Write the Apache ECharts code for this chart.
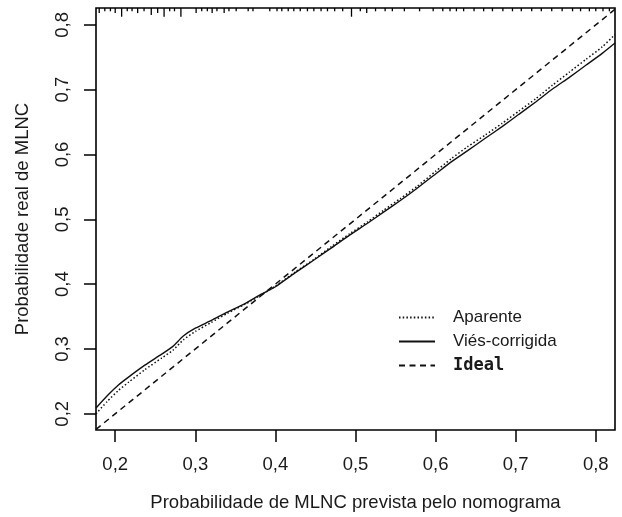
<!DOCTYPE html>
<html>
<head>
<meta charset="utf-8">
<script src="https://cdn.jsdelivr.net/npm/echarts@6/dist/echarts.min.js"></script>
<style>html,body{margin:0;padding:0;background:#fff}#c{width:622px;height:517px}</style>
</head>
<body>
<div id="c"></div>
<script>
// ---- data ----
var tickValues = [0.2, 0.3, 0.4, 0.5, 0.6, 0.7, 0.8];
var xRange = [0.176, 0.824];
var yRange = [0.175, 0.826];

var corrX = [0.176, 0.19, 0.204, 0.217, 0.237, 0.258, 0.272, 0.285, 0.30, 0.32, 0.34, 0.362, 0.383, 0.40, 0.424, 0.449, 0.47, 0.493, 0.515, 0.535, 0.556, 0.577, 0.6, 0.62, 0.64, 0.662, 0.683, 0.704, 0.725, 0.746, 0.767, 0.788, 0.808, 0.824];
var corrY = [0.209, 0.228, 0.2445, 0.257, 0.275, 0.292, 0.304, 0.320, 0.332, 0.344, 0.357, 0.370, 0.385, 0.396, 0.417, 0.438, 0.456, 0.476, 0.494, 0.511, 0.529, 0.548, 0.570, 0.589, 0.606, 0.625, 0.643, 0.662, 0.681, 0.701, 0.719, 0.738, 0.756, 0.772];

var apparX = [0.176, 0.19, 0.204, 0.217, 0.237, 0.258, 0.272, 0.285, 0.30, 0.32, 0.34, 0.362, 0.383, 0.40, 0.424, 0.449, 0.47, 0.493, 0.515, 0.535, 0.556, 0.577, 0.6, 0.62, 0.64, 0.662, 0.683, 0.704, 0.725, 0.746, 0.767, 0.788, 0.808, 0.824];
var apparY = [0.200, 0.219, 0.236, 0.249, 0.268, 0.286, 0.298, 0.314, 0.327, 0.341, 0.355, 0.369, 0.384, 0.397, 0.418, 0.439, 0.458, 0.478, 0.496, 0.514, 0.532, 0.551, 0.574, 0.594, 0.612, 0.630, 0.648, 0.667, 0.686, 0.707, 0.727, 0.747, 0.766, 0.785];

var idealX = [0.176, 0.824];
var idealY = [0.176, 0.824];

// rug of predicted probabilities (top axis), with relative frequency
var rugX = [0.180, 0.187, 0.194, 0.200, 0.208, 0.215, 0.221, 0.228, 0.236, 0.245, 0.253, 0.261, 0.268, 0.274, 0.282, 0.301, 0.308, 0.315, 0.321, 0.327, 0.336, 0.342, 0.351, 0.366, 0.372, 0.393, 0.402, 0.408, 0.416, 0.423, 0.431, 0.440, 0.448, 0.457, 0.465, 0.474, 0.484, 0.495, 0.506, 0.514, 0.525, 0.537, 0.546, 0.561, 0.580, 0.597, 0.609, 0.618, 0.626, 0.635, 0.648, 0.660, 0.671, 0.684, 0.696, 0.707, 0.720, 0.732, 0.745, 0.758, 0.771, 0.781, 0.792, 0.800, 0.809, 0.817];
var rugFreq = [2, 1, 1, 2, 4, 1, 1, 2, 1, 3, 2, 4, 1, 1, 4, 2, 1, 1, 2, 1, 2, 1, 1, 1, 1, 1, 1, 1, 1, 1, 1, 1, 1, 1, 1, 1, 1, 4, 1, 2, 1, 1, 1, 1, 1, 1, 1, 1, 1, 1, 1, 1, 1, 1, 1, 1, 1, 1, 1, 1, 1, 1, 1, 1, 1, 1];

var names = ['Aparente', 'Viés-corrigida', 'Ideal'];

function zip(a, b) { return a.map(function (v, i) { return [v, b[i]]; }); }
function fmt(v) { return (Math.round(v * 10) / 10).toFixed(1).replace('.', ','); }

var FONT = 'Liberation Sans';
var TXT = '#1a1a1a';

var chart = echarts.init(document.getElementById('c'), null, { renderer: 'canvas' });
chart.setOption({
  animation: false,
  backgroundColor: '#fff',
  grid: { left: 96, top: 8, right: 7, bottom: 85, show: true, borderColor: '#000', borderWidth: 1.6, backgroundColor: 'transparent' },
  xAxis: {
    type: 'value', min: xRange[0], max: xRange[1],
    name: 'Probabilidade de MLNC prevista pelo nomograma',
    nameLocation: 'middle', nameGap: 63,
    nameTextStyle: { fontFamily: FONT, fontSize: 18.5, color: TXT },
    axisLine: { show: false },
    splitLine: { show: false },
    axisTick: { show: true, customValues: tickValues, length: 12, inside: false, lineStyle: { color: '#000', width: 1.5 } },
    axisLabel: { customValues: tickValues, formatter: fmt, margin: 25, fontFamily: FONT, fontSize: 18.5, color: TXT }
  },
  yAxis: {
    type: 'value', min: yRange[0], max: yRange[1],
    name: 'Probabilidade real de MLNC',
    nameLocation: 'middle', nameGap: 64, nameRotate: 90,
    nameTextStyle: { fontFamily: FONT, fontSize: 18.5, color: TXT },
    axisLine: { show: false },
    splitLine: { show: false },
    axisTick: { show: true, customValues: tickValues, length: 12, inside: false, lineStyle: { color: '#000', width: 1.5 } },
    axisLabel: { customValues: tickValues, formatter: fmt, rotate: 90, margin: 24, fontFamily: FONT, fontSize: 18.5, color: TXT }
  },
  legend: {
    orient: 'vertical', left: 393, top: 304,
    itemWidth: 36, itemHeight: 14, itemGap: 7,
    data: names,
    itemStyle: { opacity: 0 },
    formatter: function (n) { return n === 'Ideal' ? '{b|Ideal}' : n; },
    textStyle: {
      fontFamily: FONT, fontSize: 17, color: TXT, padding: [0, 0, 0, 13],
      rich: { b: { fontFamily: 'DejaVu Sans Mono', fontWeight: 'bold', fontSize: 17, color: TXT } }
    }
  },
  series: [
    {
      name: 'Aparente', type: 'line', data: zip(apparX, apparY), symbol: 'none', smooth: 0.2,
      lineStyle: { color: '#111', width: 1.5, type: [1.5, 2.2] }, itemStyle: { color: '#111' }
    },
    {
      name: 'Viés-corrigida', type: 'line', data: zip(corrX, corrY), symbol: 'none', smooth: 0.2,
      lineStyle: { color: '#111', width: 1.4, type: 'solid' }, itemStyle: { color: '#111' }
    },
    {
      name: 'Ideal', type: 'line', data: zip(idealX, idealY), symbol: 'none',
      lineStyle: { color: '#111', width: 1.5, type: [6, 4.5] }, itemStyle: { color: '#111' }
    },
    {
      name: 'rug', type: 'custom', silent: true, clip: false,
      data: zip(rugX, rugFreq),
      renderItem: function (params, api) {
        var p = api.coord([api.value(0), yRange[1]]);
        var len = 1.5 + api.value(1) * 1.8;
        return { type: 'line', shape: { x1: p[0], y1: p[1], x2: p[0], y2: p[1] + len }, style: { stroke: '#000', lineWidth: 1.3 } };
      }
    }
  ]
});
</script>
</body>
</html>
